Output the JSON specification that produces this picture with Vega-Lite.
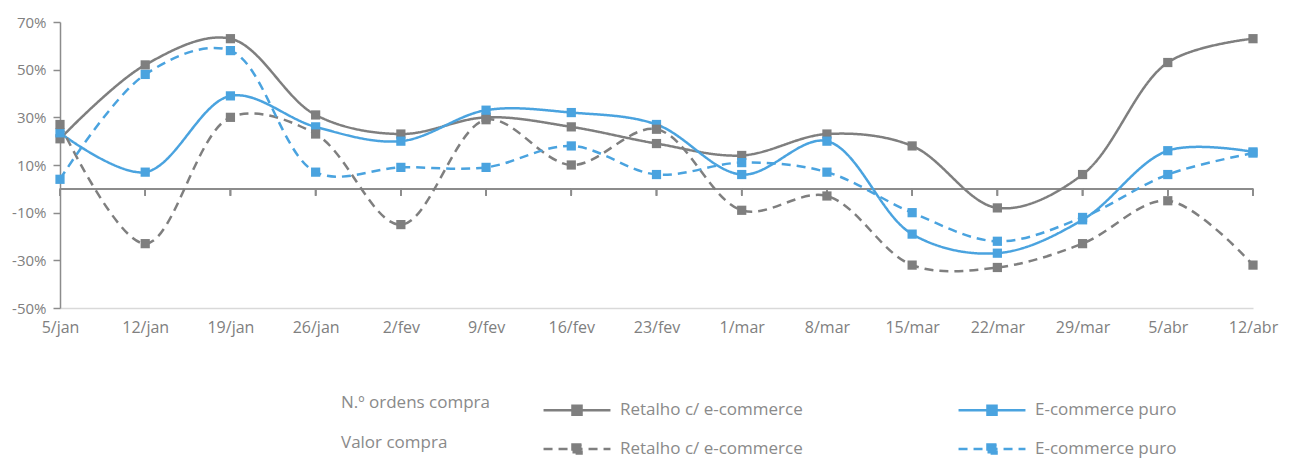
{
  "$schema": "https://vega.github.io/schema/vega-lite/v6.json",
  "width": 1193,
  "height": 286,
  "autosize": "none",
  "padding": {"left": 60, "top": 22, "right": 36, "bottom": 151},
  "background": "white",
  "config": {
    "view": {"stroke": null},
    "font": "Open Sans",
    "axis": {"labelFont": "Open Sans", "labelColor": "#808080", "labelFontSize": 15, "title": null, "grid": false}
  },
  "data": {
    "values": [
      {"week": "5/jan", "series": "o_ret|Retalho c/ e-commerce", "measure": "N.º ordens compra", "value": 21},
      {"week": "12/jan", "series": "o_ret|Retalho c/ e-commerce", "measure": "N.º ordens compra", "value": 52},
      {"week": "19/jan", "series": "o_ret|Retalho c/ e-commerce", "measure": "N.º ordens compra", "value": 63},
      {"week": "26/jan", "series": "o_ret|Retalho c/ e-commerce", "measure": "N.º ordens compra", "value": 31},
      {"week": "2/fev", "series": "o_ret|Retalho c/ e-commerce", "measure": "N.º ordens compra", "value": 23},
      {"week": "9/fev", "series": "o_ret|Retalho c/ e-commerce", "measure": "N.º ordens compra", "value": 30},
      {"week": "16/fev", "series": "o_ret|Retalho c/ e-commerce", "measure": "N.º ordens compra", "value": 26},
      {"week": "23/fev", "series": "o_ret|Retalho c/ e-commerce", "measure": "N.º ordens compra", "value": 19},
      {"week": "1/mar", "series": "o_ret|Retalho c/ e-commerce", "measure": "N.º ordens compra", "value": 14},
      {"week": "8/mar", "series": "o_ret|Retalho c/ e-commerce", "measure": "N.º ordens compra", "value": 23},
      {"week": "15/mar", "series": "o_ret|Retalho c/ e-commerce", "measure": "N.º ordens compra", "value": 18},
      {"week": "22/mar", "series": "o_ret|Retalho c/ e-commerce", "measure": "N.º ordens compra", "value": -8},
      {"week": "29/mar", "series": "o_ret|Retalho c/ e-commerce", "measure": "N.º ordens compra", "value": 6},
      {"week": "5/abr", "series": "o_ret|Retalho c/ e-commerce", "measure": "N.º ordens compra", "value": 53},
      {"week": "12/abr", "series": "o_ret|Retalho c/ e-commerce", "measure": "N.º ordens compra", "value": 63},

      {"week": "5/jan", "series": "o_ec|E-commerce puro", "measure": "N.º ordens compra", "value": 23.5},
      {"week": "12/jan", "series": "o_ec|E-commerce puro", "measure": "N.º ordens compra", "value": 7},
      {"week": "19/jan", "series": "o_ec|E-commerce puro", "measure": "N.º ordens compra", "value": 39},
      {"week": "26/jan", "series": "o_ec|E-commerce puro", "measure": "N.º ordens compra", "value": 26},
      {"week": "2/fev", "series": "o_ec|E-commerce puro", "measure": "N.º ordens compra", "value": 20},
      {"week": "9/fev", "series": "o_ec|E-commerce puro", "measure": "N.º ordens compra", "value": 33},
      {"week": "16/fev", "series": "o_ec|E-commerce puro", "measure": "N.º ordens compra", "value": 32},
      {"week": "23/fev", "series": "o_ec|E-commerce puro", "measure": "N.º ordens compra", "value": 27},
      {"week": "1/mar", "series": "o_ec|E-commerce puro", "measure": "N.º ordens compra", "value": 6},
      {"week": "8/mar", "series": "o_ec|E-commerce puro", "measure": "N.º ordens compra", "value": 20},
      {"week": "15/mar", "series": "o_ec|E-commerce puro", "measure": "N.º ordens compra", "value": -19},
      {"week": "22/mar", "series": "o_ec|E-commerce puro", "measure": "N.º ordens compra", "value": -27},
      {"week": "29/mar", "series": "o_ec|E-commerce puro", "measure": "N.º ordens compra", "value": -13},
      {"week": "5/abr", "series": "o_ec|E-commerce puro", "measure": "N.º ordens compra", "value": 16},
      {"week": "12/abr", "series": "o_ec|E-commerce puro", "measure": "N.º ordens compra", "value": 15.5},

      {"week": "5/jan", "series": "v_ret|Retalho c/ e-commerce", "measure": "Valor compra", "value": 27},
      {"week": "12/jan", "series": "v_ret|Retalho c/ e-commerce", "measure": "Valor compra", "value": -23},
      {"week": "19/jan", "series": "v_ret|Retalho c/ e-commerce", "measure": "Valor compra", "value": 30},
      {"week": "26/jan", "series": "v_ret|Retalho c/ e-commerce", "measure": "Valor compra", "value": 23},
      {"week": "2/fev", "series": "v_ret|Retalho c/ e-commerce", "measure": "Valor compra", "value": -15},
      {"week": "9/fev", "series": "v_ret|Retalho c/ e-commerce", "measure": "Valor compra", "value": 29},
      {"week": "16/fev", "series": "v_ret|Retalho c/ e-commerce", "measure": "Valor compra", "value": 10},
      {"week": "23/fev", "series": "v_ret|Retalho c/ e-commerce", "measure": "Valor compra", "value": 25},
      {"week": "1/mar", "series": "v_ret|Retalho c/ e-commerce", "measure": "Valor compra", "value": -9},
      {"week": "8/mar", "series": "v_ret|Retalho c/ e-commerce", "measure": "Valor compra", "value": -3},
      {"week": "15/mar", "series": "v_ret|Retalho c/ e-commerce", "measure": "Valor compra", "value": -32},
      {"week": "22/mar", "series": "v_ret|Retalho c/ e-commerce", "measure": "Valor compra", "value": -33},
      {"week": "29/mar", "series": "v_ret|Retalho c/ e-commerce", "measure": "Valor compra", "value": -23},
      {"week": "5/abr", "series": "v_ret|Retalho c/ e-commerce", "measure": "Valor compra", "value": -5},
      {"week": "12/abr", "series": "v_ret|Retalho c/ e-commerce", "measure": "Valor compra", "value": -32},

      {"week": "5/jan", "series": "v_ec|E-commerce puro", "measure": "Valor compra", "value": 4},
      {"week": "12/jan", "series": "v_ec|E-commerce puro", "measure": "Valor compra", "value": 48},
      {"week": "19/jan", "series": "v_ec|E-commerce puro", "measure": "Valor compra", "value": 58},
      {"week": "26/jan", "series": "v_ec|E-commerce puro", "measure": "Valor compra", "value": 7},
      {"week": "2/fev", "series": "v_ec|E-commerce puro", "measure": "Valor compra", "value": 9},
      {"week": "9/fev", "series": "v_ec|E-commerce puro", "measure": "Valor compra", "value": 9},
      {"week": "16/fev", "series": "v_ec|E-commerce puro", "measure": "Valor compra", "value": 18},
      {"week": "23/fev", "series": "v_ec|E-commerce puro", "measure": "Valor compra", "value": 6},
      {"week": "1/mar", "series": "v_ec|E-commerce puro", "measure": "Valor compra", "value": 11},
      {"week": "8/mar", "series": "v_ec|E-commerce puro", "measure": "Valor compra", "value": 7},
      {"week": "15/mar", "series": "v_ec|E-commerce puro", "measure": "Valor compra", "value": -10},
      {"week": "22/mar", "series": "v_ec|E-commerce puro", "measure": "Valor compra", "value": -22},
      {"week": "29/mar", "series": "v_ec|E-commerce puro", "measure": "Valor compra", "value": -12},
      {"week": "5/abr", "series": "v_ec|E-commerce puro", "measure": "Valor compra", "value": 6},
      {"week": "12/abr", "series": "v_ec|E-commerce puro", "measure": "Valor compra", "value": 15}
    ]
  },
  "encoding": {
    "x": {
      "field": "week", "type": "nominal",
      "sort": ["5/jan","12/jan","19/jan","26/jan","2/fev","9/fev","16/fev","23/fev","1/mar","8/mar","15/mar","22/mar","29/mar","5/abr","12/abr"],
      "scale": {"type": "point", "padding": 0},
      "axis": {"orient": "bottom", "labelAngle": 0, "ticks": false, "domainColor": "#d9d9d9", "domainWidth": 1.5, "labelPadding": 11, "labelFontSize": 16}
    },
    "y": {
      "field": "value", "type": "quantitative",
      "scale": {"domain": [-50, 70], "nice": false, "zero": false},
      "axis": {"values": [-50, -30, -10, 10, 30, 50, 70], "labelExpr": "datum.value + '%'", "domainColor": "#8c8c8c", "domainWidth": 1.5, "tickColor": "#8c8c8c", "tickWidth": 1.5, "tickSize": 7, "labelPadding": 7}
    }
  },
  "layer": [
    {
      "mark": {"type": "rule", "color": "#8c8c8c", "strokeWidth": 1.5},
      "encoding": {"x": {"value": 0}, "x2": {"value": 1193}, "y": {"datum": 0}}
    },
    {
      "mark": {"type": "rule", "color": "#8c8c8c", "strokeWidth": 1.5},
      "encoding": {"y": {"datum": 0}, "y2": {"datum": -2.9}}
    },
    {
      "mark": {"type": "line", "interpolate": "catmull-rom", "strokeWidth": 2.5},
      "encoding": {
        "color": {
          "field": "series", "type": "nominal",
          "scale": {"domain": ["o_ret|Retalho c/ e-commerce", "o_ec|E-commerce puro", "v_ret|Retalho c/ e-commerce", "v_ec|E-commerce puro"], "range": ["#7f7f7f", "#4aa3df", "#7f7f7f", "#4aa3df"]},
          "legend": {
            "title": null, "orient": "none", "legendX": 507, "legendY": 378, "direction": "horizontal", "columns": 2,
            "columnPadding": 150, "rowPadding": 19, "labelOffset": 33,
            "symbolType": "M-4,0H4M-0.54,-0.54H0.54V0.54H-0.54Z", "symbolSize": 280, "symbolStrokeWidth": 2.5,
            "labelExpr": "slice(datum.label, indexof(datum.label, '|') + 1)",
            "labelFont": "Open Sans", "labelFontSize": 17, "labelColor": "#8a8a8a", "labelLimit": 0,
            "encode": {"symbols": {"update": {"fill": {"scale": "color", "field": "value"}, "stroke": {"scale": "color", "field": "value"}}}}
          }
        },
        "strokeDash": {
          "field": "series", "type": "nominal",
          "scale": {"domain": ["o_ret|Retalho c/ e-commerce", "o_ec|E-commerce puro", "v_ret|Retalho c/ e-commerce", "v_ec|E-commerce puro"], "range": [[1, 0], [1, 0], [9, 6], [9, 6]]},
          "legend": {"title": null}
        }
      }
    },
    {
      "mark": {"type": "point", "shape": "square", "filled": true, "size": 85, "opacity": 1},
      "encoding": {
        "color": {"field": "series", "type": "nominal", "legend": {"title": null}}
      }
    },
    {
      "mark": {"type": "point", "filled": true, "size": 1, "opacity": 0},
      "encoding": {
        "shape": {
          "field": "measure", "type": "nominal",
          "scale": {"domain": ["N.º ordens compra", "Valor compra"], "range": ["circle", "circle"]},
          "legend": {"title": null, "orient": "none", "legendX": 264, "legendY": 372, "direction": "vertical", "rowPadding": 22, "symbolSize": 1, "symbolOpacity": 0, "labelOffset": 0, "labelFont": "Open Sans", "labelFontSize": 17, "labelColor": "#8a8a8a", "labelLimit": 0}
        }
      }
    }
  ]
}
